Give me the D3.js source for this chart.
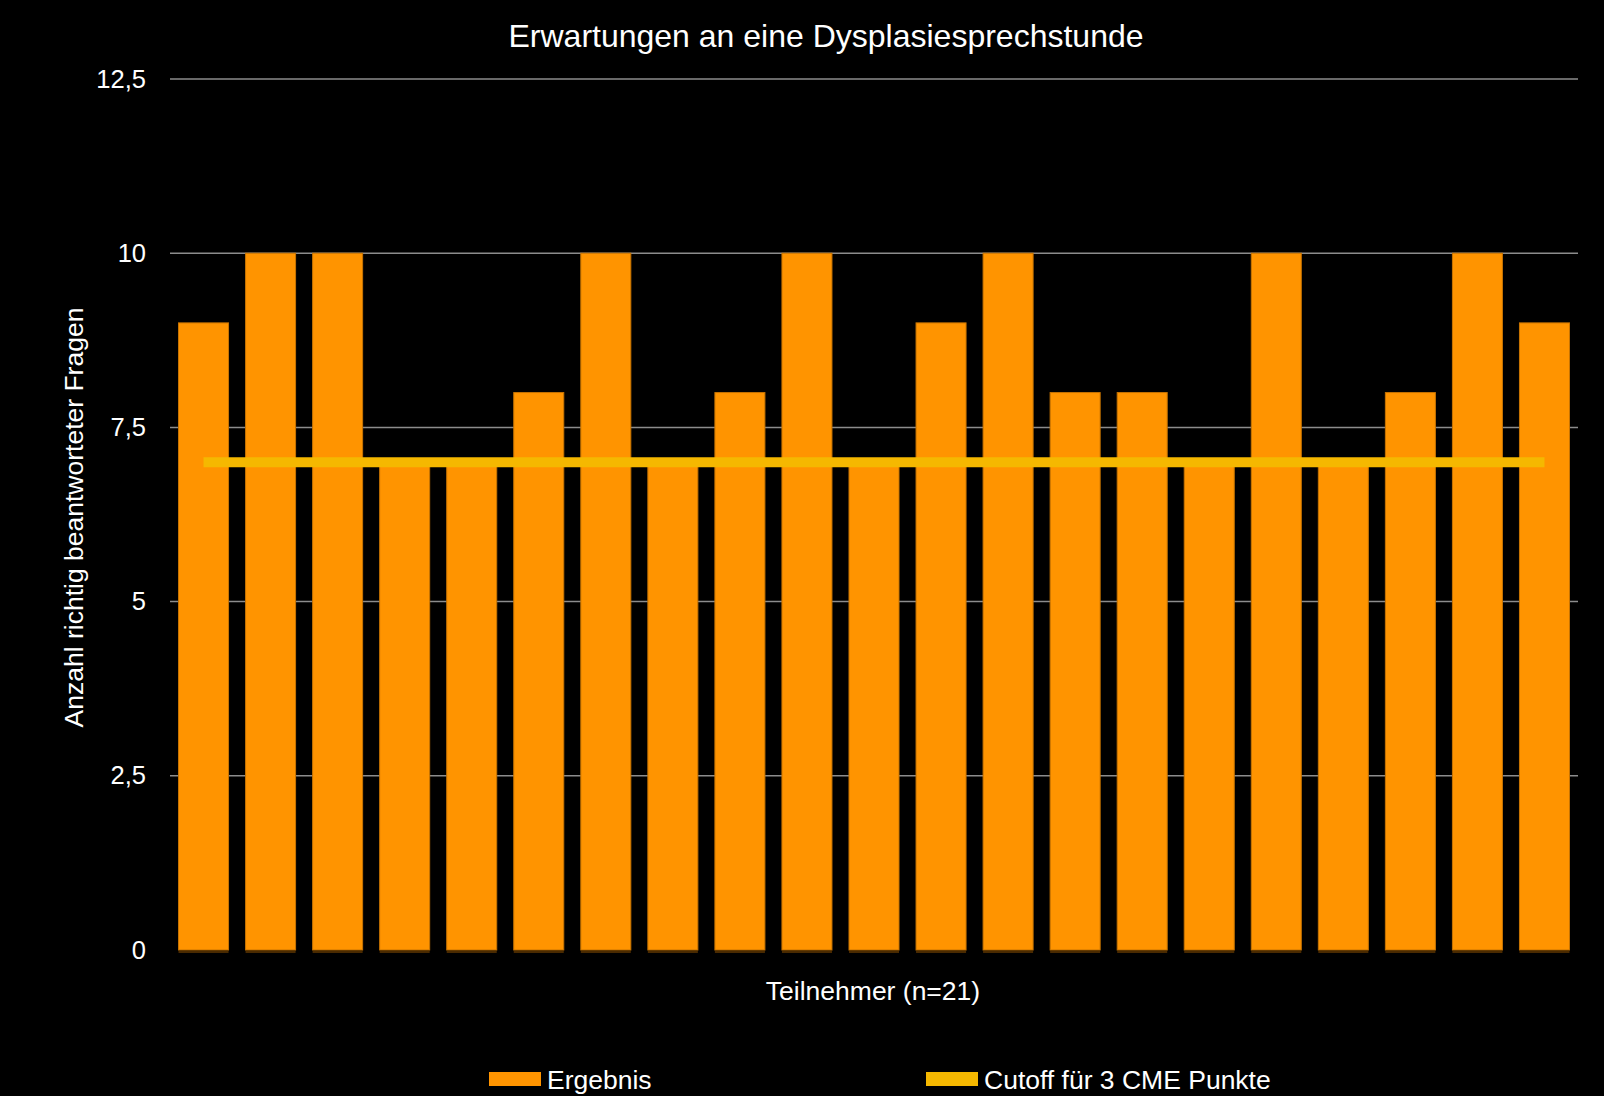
<!DOCTYPE html>
<html>
<head>
<meta charset="utf-8">
<script src="https://cdn.jsdelivr.net/npm/d3@7"></script>
<style>
body{margin:0;background:#000;}
svg{display:block;font-family:"Liberation Sans",Arial,sans-serif;}
</style>
</head>
<body>
<svg class="chart" width="1604" height="1096"></svg>
<script>
// values
var teilnehmer = d3.range(1, 22);
var ergebnis = [9,10,10,7,7,8,10,7,8,10,7,9,10,8,8,7,10,7,8,10,9];
var cutoff = 7;
var yTicks = [0, 2.5, 5, 7.5, 10, 12.5];
var seriesNames = ["Ergebnis", "Cutoff für 3 CME Punkte"];

var chartW = 1604, chartH = 1096;
var plotL = 170, plotR = 1578, plotT = 79, plotB = 950;

var svg = d3.select(".chart");
svg.append("rect").attr("width",chartW).attr("height",chartH).attr("fill","#000");

var scaleX = d3.scaleBand().domain(teilnehmer).range([plotL,plotR]).paddingInner(0.254).paddingOuter(0.127);
var scaleY = d3.scaleLinear().domain([0,12.5]).range([plotB,plotT]);

var fmt = function(d){ return String(d).replace(".",","); };

// gridlines
svg.selectAll(".grid")
	.data(yTicks.filter(function(d){return d>0;}))
	.enter()
	.append("line")
	.attr("class","grid")
	.attr("x1",plotL).attr("x2",plotR)
	.attr("y1",function(d){return scaleY(d);})
	.attr("y2",function(d){return scaleY(d);})
	.attr("stroke","#8c8c8c")
	.attr("stroke-width",1.5);

// y axis
var yAxis = d3.axisLeft(scaleY).tickValues(yTicks).tickFormat(fmt).tickSize(0).tickPadding(24);
var ga = svg.append("g").attr("transform","translate("+plotL+",0)").call(yAxis);
ga.select(".domain").remove();
ga.selectAll("text").attr("fill","#fff").style("font-size","25.5px").style("font-family","inherit");

// bars
svg.selectAll(".bar")
	.data(ergebnis)
	.enter()
	.append("rect")
	.attr("class","bar")
	.attr("x",function(d,i){return scaleX(teilnehmer[i]);})
	.attr("y",function(d){return scaleY(d);})
	.attr("width",scaleX.bandwidth())
	.attr("height",function(d){return scaleY(0)-scaleY(d);})
	.attr("fill","#ff9400")
	.attr("stroke","#c87400")
	.attr("stroke-width",1);

// small dark base under each bar
svg.selectAll(".base")
	.data(ergebnis)
	.enter()
	.append("line")
	.attr("x1",function(d,i){return scaleX(teilnehmer[i]);})
	.attr("x2",function(d,i){return scaleX(teilnehmer[i])+scaleX.bandwidth();})
	.attr("y1",scaleY(0)+2).attr("y2",scaleY(0)+2)
	.attr("stroke","#4a2a00").attr("stroke-width",2);

// cutoff line
var line = d3.line()
	.x(function(d){return scaleX(d)+scaleX.bandwidth()/2;})
	.y(function(){return scaleY(cutoff);});
svg.append("path")
	.datum([teilnehmer[0], teilnehmer[teilnehmer.length-1]])
	.attr("d",line)
	.attr("fill","none")
	.attr("stroke","#f5b800")
	.attr("stroke-width",10);

// titles
svg.append("text").attr("x",826).attr("y",47).attr("text-anchor","middle")
	.attr("fill","#fff").style("font-size","32px").text("Erwartungen an eine Dysplasiesprechstunde");
svg.append("text").attr("x",873).attr("y",1000).attr("text-anchor","middle")
	.attr("fill","#fff").style("font-size","26.5px").text("Teilnehmer (n=21)");
svg.append("text").attr("transform","translate(83,"+((plotT+plotB)/2+3)+") rotate(-90)")
	.attr("text-anchor","middle").attr("fill","#fff").style("font-size","26.5px")
	.text("Anzahl richtig beantworteter Fragen");

// legend
var legend = [{x:489, name:seriesNames[0], color:"#ff9400"},{x:926, name:seriesNames[1], color:"#f5b800"}];
var lg = svg.selectAll(".leg").data(legend).enter().append("g")
	.attr("transform",function(d){return "translate("+d.x+",1072)";});
lg.append("rect").attr("width",52).attr("height",14).attr("fill",function(d){return d.color;});
lg.append("text").attr("x",58).attr("y",17).attr("fill","#fff").style("font-size","26.5px")
	.text(function(d){return d.name;});
</script>
</body>
</html>
